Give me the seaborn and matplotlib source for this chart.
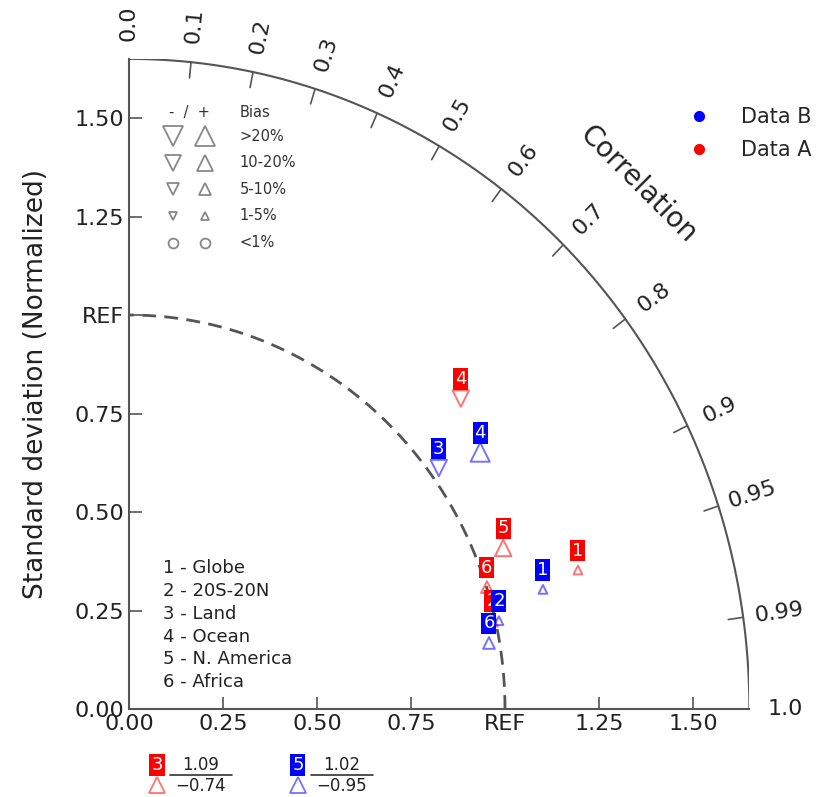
import numpy as np
import pandas as pd
import matplotlib.pyplot as plt
import seaborn as sns
from matplotlib.lines import Line2D

# Cases and Taylor statistics (normalized std, correlation, bias %)
case_ids = ['1', '2', '3', '4', '5', '6']
case_names = ['Globe', '20S-20N', 'Land', 'Ocean', 'N. America', 'Africa']

std_a = [1.245, 0.991, 1.09, 1.183, 1.076, 1.001]
corr_a = [0.959, 0.974, -0.74, 0.746, 0.925, 0.951]
bias_a = [4, 6, 12, -15, 14, 7]

std_b = [1.142, 1.009, 1.026, 1.139, 1.02, 0.972]
corr_b = [0.964, 0.975, 0.803, 0.820, -0.95, 0.985]
bias_b = [3, 2, -12, 25, 12, 8]

std_ticks = [0.0, 0.25, 0.5, 0.75, 1.0, 1.25, 1.5]
std_labels = ['0.00', '0.25', '0.50', '0.75', 'REF', '1.25', '1.50']
corr_ticks = [0.0, 0.1, 0.2, 0.3, 0.4, 0.5, 0.6, 0.7, 0.8, 0.9, 0.95, 0.99, 1.0]
corr_labels = ['0.0', '0.1', '0.2', '0.3', '0.4', '0.5', '0.6', '0.7', '0.8',
               '0.9', '0.95', '0.99', '1.0']

bias_classes = ['>20%', '10-20%', '5-10%', '1-5%', '<1%']
bias_sizes = {'>20%': 190, '10-20%': 140, '5-10%': 72, '1-5%': 40, '<1%': 50}

RMAX = 1.65
RED = '#ff0000'
BLUE = '#0000ff'


def bias_class(b):
    b = abs(b)
    if b > 20:
        return '>20%'
    if b >= 10:
        return '10-20%'
    if b >= 5:
        return '5-10%'
    if b >= 1:
        return '1-5%'
    return '<1%'


def bias_shape(b):
    if abs(b) < 1:
        return 'flat'
    return 'up' if b > 0 else 'down'


def make_frame(std, corr, bias):
    df = pd.DataFrame({'id': case_ids, 'std': std, 'corr': corr, 'bias': bias})
    theta = np.arccos(df['corr'])
    df['x'] = df['std'] * np.cos(theta)
    df['y'] = df['std'] * np.sin(theta)
    df['cls'] = [bias_class(b) for b in df['bias']]
    df['shape'] = [bias_shape(b) for b in df['bias']]
    return df


sns.set_style('white')
plt.rcParams['font.family'] = ['DejaVu Sans']

fig = plt.figure(figsize=(8.2, 7.97), dpi=100)
ax = fig.add_axes([0.1573, 0.1104, 0.7566, 0.8157])

shape_markers = {'up': '^', 'down': 'v', 'flat': 'o'}

datasets = [('Data A', make_frame(std_a, corr_a, bias_a), RED, 4),
            ('Data B', make_frame(std_b, corr_b, bias_b), BLUE, 5)]

# REF arc
t = np.linspace(0, np.pi / 2, 200)
ax.plot(np.cos(t), np.sin(t), ls=(0, (5, 3)), color='#555555', lw=2, zorder=1)

# outer correlation arc
ax.plot(RMAX * np.cos(t), RMAX * np.sin(t), color='#555555', lw=1.5, zorder=1)

for name, df, col, z in datasets:
    inside = df[df['corr'] >= 0]
    sns.scatterplot(data=inside, x='x', y='y', style='shape', markers=shape_markers,
                    size='cls', sizes=bias_sizes, facecolor='none', edgecolor=col,
                    alpha=0.55, linewidth=1.4, legend=False, ax=ax, zorder=3)
    for _, r in inside.iterrows():
        ax.annotate(r['id'], (r['x'], r['y']), xytext=(0, 14), textcoords='offset points',
                    ha='center', va='center', color='white', fontsize=13, zorder=z,
                    bbox=dict(boxstyle='square,pad=0.1', fc=col, ec='none'))

# correlation ticks and labels on the arc
for c, lab in zip(corr_ticks, corr_labels):
    a = np.arccos(c)
    if 0 < c < 1:
        ax.plot([RMAX * np.cos(a), (RMAX - 0.04) * np.cos(a)],
                [RMAX * np.sin(a), (RMAX - 0.04) * np.sin(a)], color='#555555', lw=1.2)
    ax.annotate(lab, (RMAX * np.cos(a), RMAX * np.sin(a)),
                xytext=(26 * np.cos(a), 26 * np.sin(a)), textcoords='offset points',
                rotation=np.degrees(a), ha='center', va='center', fontsize=16,
                color='#222222', annotation_clip=False)

ax.text(1.90 * np.cos(np.radians(44.5)), 1.90 * np.sin(np.radians(44.5)), 'Correlation',
        rotation=-45, ha='center', va='center', fontsize=20, color='#222222')

# bias legend (top-left)
ax.text(0.16, 1.515, '-  /  +', ha='center', va='center', fontsize=10.5, color='#333333')
ax.text(0.295, 1.515, 'Bias', ha='left', va='center', fontsize=10.5, color='#333333')
for i, cls in enumerate(bias_classes):
    yy = 1.454 - i * 0.0675
    ms = np.sqrt(bias_sizes[cls])
    mk_dn = 'o' if cls == '<1%' else 'v'
    mk_up = 'o' if cls == '<1%' else '^'
    ax.plot(0.117, yy, marker=mk_dn, ms=ms, mfc='none', mec='#888888', mew=1.3)
    ax.plot(0.202, yy, marker=mk_up, ms=ms, mfc='none', mec='#888888', mew=1.3)
    ax.text(0.295, yy, cls, ha='left', va='center', fontsize=10.5, color='#333333')

# case list (bottom-left)
for i, (cid, cname) in enumerate(zip(case_ids, case_names)):
    ax.text(0.09, 0.358 - i * 0.058, f'{cid} - {cname}', ha='left', va='center',
            fontsize=13, color='#222222')

# out-of-range (negative correlation) indicators below the axes
k = 0
for name, df, col, z in datasets:
    for _, r in df[df['corr'] < 0].iterrows():
        x0 = 0.0745 + k * 0.3745
        ax.text(x0, -0.142, r['id'], ha='center', va='center', color='white', fontsize=13,
                bbox=dict(boxstyle='square,pad=0.1', fc=col, ec='none'), clip_on=False)
        ax.plot(x0, -0.193, marker=shape_markers[r['shape']], ms=np.sqrt(bias_sizes[r['cls']]),
                mfc='none', mec=col, mew=1.3, alpha=0.55, clip_on=False)
        ax.text(x0 + 0.117, -0.143, f"{r['std']:.2f}", ha='center', va='center',
                fontsize=12, color='#222222', clip_on=False)
        ax.plot([x0 + 0.035, x0 + 0.2], [-0.167, -0.167], color='#333333', lw=1.2, clip_on=False)
        ax.text(x0 + 0.117, -0.195, f"{r['corr']:.2f}".replace('-', '\u2212'), ha='center',
                va='center', fontsize=12, color='#222222', clip_on=False)
        k += 1

# axes
ax.set_xlim(0, RMAX)
ax.set_ylim(0, RMAX)
ax.set_xticks(std_ticks)
ax.set_xticklabels(std_labels)
ax.set_yticks(std_ticks)
ax.set_yticklabels(std_labels)
ax.tick_params(direction='in', length=9, width=1.2, color='#555555', labelsize=16,
               labelcolor='#222222', bottom=True, left=True)
ax.set_xlabel('')
ax.set_ylabel('Standard deviation (Normalized)', fontsize=19, color='#222222', labelpad=18)
for s in ['top', 'right']:
    ax.spines[s].set_visible(False)
for s in ['left', 'bottom']:
    ax.spines[s].set_color('#555555')
    ax.spines[s].set_linewidth(1.5)

handles = [Line2D([], [], ls='', marker='o', ms=7, color=BLUE),
           Line2D([], [], ls='', marker='o', ms=7, color=RED)]
ax.legend(handles, ['Data B', 'Data A'], loc='upper left', bbox_to_anchor=(0.855, 0.955),
          frameon=False, fontsize=15, handletextpad=1.0, labelspacing=0.65)

fig.savefig('out.png', dpi=100)
